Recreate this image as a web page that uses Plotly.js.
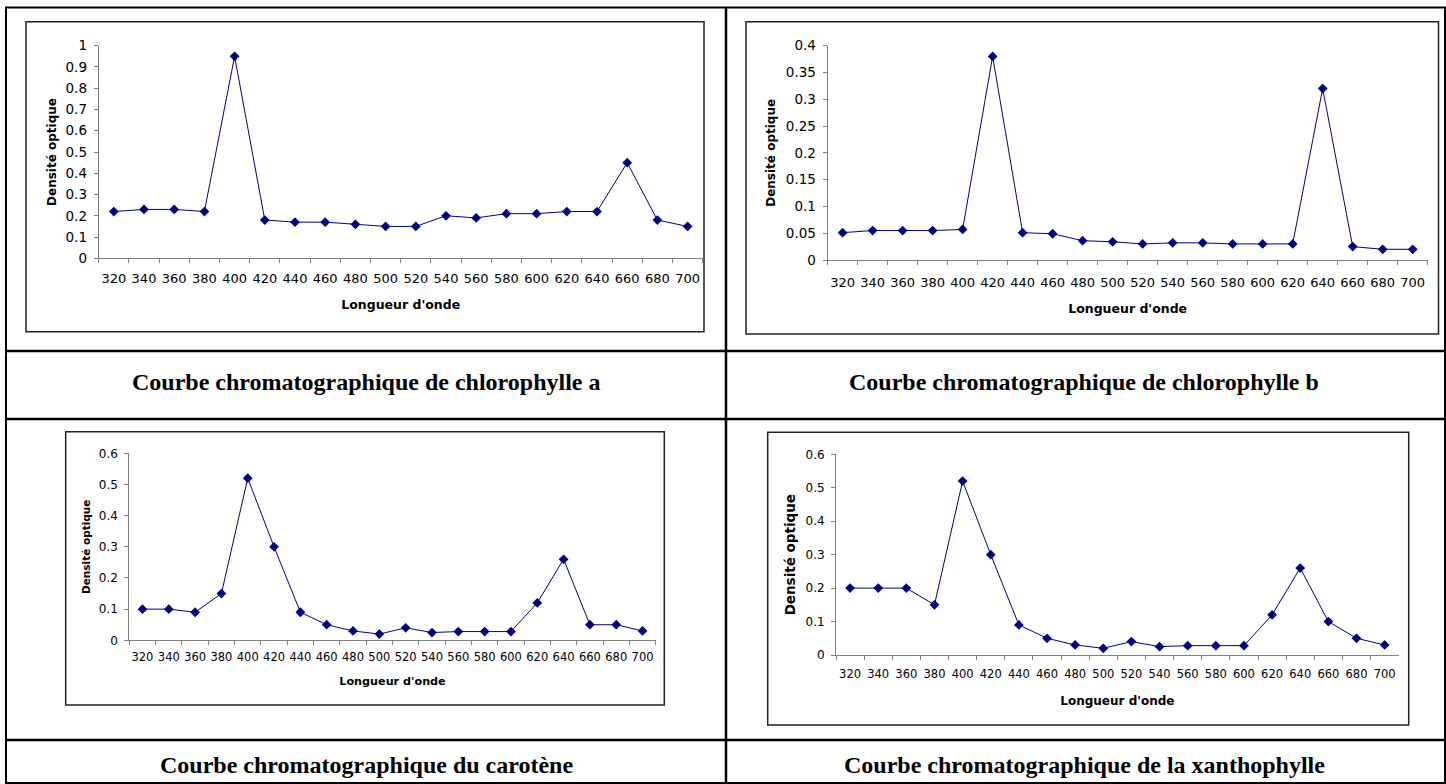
<!DOCTYPE html>
<html>
<head>
<meta charset="utf-8">
<script src="https://cdn.plot.ly/plotly-3.0.1.min.js"></script>
<style>html,body{margin:0;padding:0;background:#fff;}#chart{width:1446px;height:784px;}</style>
</head>
<body>
<div id="chart"></div>
<script>
const wavelengths = [320,340,360,380,400,420,440,460,480,500,520,540,560,580,600,620,640,660,680,700];
const chlorophylleA = [0.22,0.23,0.23,0.22,0.95,0.18,0.17,0.17,0.16,0.15,0.15,0.20,0.19,0.21,0.21,0.22,0.22,0.45,0.18,0.15];
const chlorophylleB = [0.051,0.055,0.055,0.055,0.057,0.38,0.051,0.049,0.036,0.034,0.03,0.032,0.032,0.03,0.03,0.03,0.32,0.025,0.02,0.02];
const carotene = [0.10,0.10,0.09,0.15,0.52,0.30,0.09,0.05,0.03,0.02,0.04,0.025,0.028,0.028,0.028,0.12,0.26,0.05,0.05,0.03];
const xanthophylle = [0.20,0.20,0.20,0.15,0.52,0.30,0.09,0.05,0.03,0.02,0.04,0.025,0.028,0.028,0.028,0.12,0.26,0.10,0.05,0.03];
const captions = [
  "Courbe chromatographique de chlorophylle a",
  "Courbe chromatographique de chlorophylle b",
  "Courbe chromatographique du carotène",
  "Courbe chromatographique de la xanthophylle"
];
const xTitle = "Longueur d'onde";
const yTitle = "Densité optique";

const W = 1446, H = 784;
const px = v => v / W;
const py = v => 1 - v / H;
const cats = wavelengths.map(String);
const NAVY = '#000080';
const AXC = '#808080';
const FONT = 'DejaVu Sans';

function trace(y, xa, ya) {
  return {
    type: 'scatter', mode: 'lines+markers', x: cats, y: y,
    xaxis: xa, yaxis: ya,
    line: {color: NAVY, width: 1},
    marker: {symbol: 'diamond', size: 7.5, color: NAVY},
    showlegend: false, hoverinfo: 'x+y'
  };
}

function xaxis(x0, x1, anchor, tsize, labelOff, titleSize, standoff) {
  return {
    domain: [px(x0), px(x1)], anchor: anchor, type: 'category',
    range: [-0.5, 19.5], tickson: 'boundaries', ticks: 'outside', ticklen: 4,
    tickcolor: AXC, tickwidth: 1, showline: true, linecolor: AXC, linewidth: 1,
    showgrid: false, zeroline: false, ticklabelstandoff: labelOff, tickangle: 0,
    tickfont: {family: FONT, size: tsize, color: '#000'},
    title: {text: xTitle, standoff: standoff, font: {family: FONT, size: titleSize, color: '#000', weight: 'bold'}},
    fixedrange: true
  };
}
function yaxis(y0, y1, anchor, max, dtick, tsize, titleSize, standoff) {
  return {
    domain: [py(y0), py(y1)], anchor: anchor, range: [0, max], dtick: dtick, tick0: 0,
    ticks: 'outside', ticklen: 4, tickcolor: AXC, tickwidth: 1,
    showline: true, linecolor: AXC, linewidth: 1, showgrid: false, zeroline: false,
    ticklabelstandoff: 4,
    tickfont: {family: FONT, size: tsize, color: '#000'},
    title: {text: yTitle, standoff: standoff, font: {family: FONT, size: titleSize, color: '#000', weight: 'bold'}},
    fixedrange: true
  };
}

const data = [
  trace(chlorophylleA, 'x', 'y'),
  trace(chlorophylleB, 'x2', 'y2'),
  trace(carotene, 'x3', 'y3'),
  trace(xanthophylle, 'x4', 'y4')
];

function rect(x0, y0, x1, y1, w, c) {
  return {type: 'rect', xref: 'paper', yref: 'paper', x0: px(x0), x1: px(x1), y0: py(y0), y1: py(y1),
          line: {color: c, width: w}, layer: 'below'};
}
function line(x0, y0, x1, y1, w) {
  return {type: 'line', xref: 'paper', yref: 'paper', x0: px(x0), x1: px(x1), y0: py(y0), y1: py(y1),
          line: {color: '#000', width: w}};
}

const shapes = [
  rect(6, 7.5, 1445, 783, 2, '#000'),
  line(726, 7.5, 726, 783, 2.5),
  line(6, 351, 1445, 351, 2.5),
  line(6, 419, 1445, 419, 2.5),
  line(6, 740, 1445, 740, 2.5),
  rect(26, 21.7, 704, 331.7, 1.5, '#222'),
  rect(746, 21.7, 1438.5, 334, 1.5, '#222'),
  rect(65.7, 431.7, 664.3, 705, 1.5, '#222'),
  rect(767.7, 432.3, 1408.7, 725, 1.5, '#222')
];

function caption(text, x, y) {
  return {text: text, xref: 'paper', yref: 'paper', x: px(x), y: py(y), xanchor: 'center', yanchor: 'middle',
          showarrow: false, font: {family: 'Liberation Serif', size: 24, color: '#000', weight: 'bold'}};
}

const layout = {
  width: W, height: H, margin: {l: 0, r: 0, t: 0, b: 0, pad: 0},
  paper_bgcolor: '#fff', plot_bgcolor: 'rgba(0,0,0,0)', showlegend: false,
  xaxis: xaxis(98.7, 702.7, 'y', 13, 8, 12.5, 15),
  yaxis: yaxis(258.3, 45.7, 'x', 1, 0.1, 13.5, 12, 6),
  xaxis2: xaxis(827.6, 1427.7, 'y2', 13, 10, 12.5, 15),
  yaxis2: yaxis(260, 45.7, 'x2', 0.4, 0.05, 13.5, 12, 7),
  xaxis3: xaxis(129.3, 655.7, 'y3', 11.5, 6, 11.2, 14),
  yaxis3: yaxis(640.3, 453.3, 'x3', 0.6, 0.1, 12, 10.5, 6),
  xaxis4: xaxis(836, 1398.7, 'y4', 11.5, 8, 12, 16),
  yaxis4: yaxis(655, 454.3, 'x4', 0.6, 0.1, 12, 13.5, 6.5),
  shapes: shapes,
  annotations: [
    caption(captions[0], 366, 382),
    caption(captions[1], 1084, 382),
    caption(captions[2], 366, 765),
    caption(captions[3], 1084, 765)
  ]
};

Plotly.newPlot('chart', data, layout, {displayModeBar: false, staticPlot: true});
</script>
</body>
</html>
